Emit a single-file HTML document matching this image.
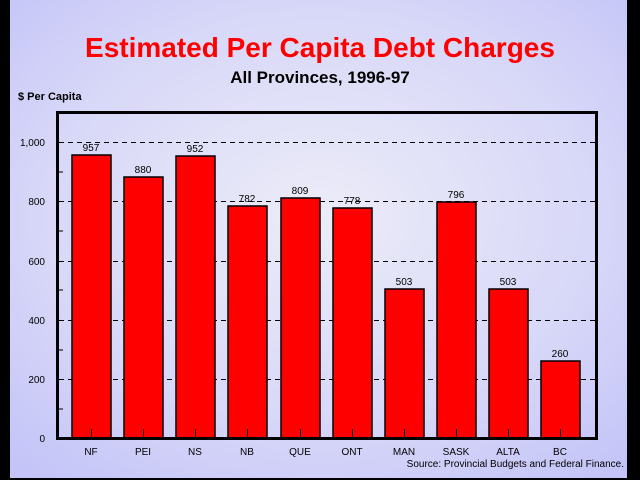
<!DOCTYPE html>
<html><head><meta charset="utf-8"><style>
body{margin:0;width:640px;height:480px;overflow:hidden;font-family:"Liberation Sans",Arial,sans-serif}
</style></head><body>
<svg width="640" height="480" xmlns="http://www.w3.org/2000/svg" font-family="Liberation Sans, Arial, sans-serif">
<defs>
<radialGradient id="bg" cx="0.5" cy="0.45" r="0.7">
<stop offset="0" stop-color="#ececf8"/>
<stop offset="0.6" stop-color="#d8d8f8"/>
<stop offset="1" stop-color="#c4c4f8"/>
</radialGradient>
</defs>
<rect width="640" height="480" fill="url(#bg)"/>
<rect x="0" y="0" width="10" height="480" fill="#000"/>
<rect x="627" y="0" width="13" height="480" fill="#000"/>
<rect x="0" y="478" width="640" height="2" fill="#000"/>
<text x="320" y="57" text-anchor="middle" font-size="28" font-weight="bold" fill="#ff0000">Estimated Per Capita Debt Charges</text>
<text x="320" y="83" text-anchor="middle" font-size="17" font-weight="bold" fill="#000">All Provinces, 1996-97</text>
<text x="18" y="100" font-size="11" font-weight="bold" fill="#000">$ Per Capita</text>
<g stroke="#000" stroke-width="1" stroke-dasharray="5,4">
<line x1="59" x2="596" y1="142.5" y2="142.5"/>
<line x1="59" x2="596" y1="201.5" y2="201.5"/>
<line x1="59" x2="596" y1="261.5" y2="261.5"/>
<line x1="59" x2="596" y1="320.5" y2="320.5"/>
<line x1="59" x2="596" y1="379.5" y2="379.5"/>
</g>
<g stroke="#000" stroke-width="1">
<line x1="59" x2="63" y1="172" y2="172"/><line x1="59" x2="63" y1="231" y2="231"/>
<line x1="59" x2="63" y1="290" y2="290"/><line x1="59" x2="63" y1="350" y2="350"/>
<line x1="59" x2="63" y1="409" y2="409"/>
</g>
<g fill="#ff0000" stroke="#000" stroke-width="1.5">
<rect x="72" y="155" width="39" height="283"/>
<rect x="124" y="177" width="39" height="261"/>
<rect x="176" y="156" width="39" height="282"/>
<rect x="228" y="206" width="39" height="232"/>
<rect x="281" y="198" width="39" height="240"/>
<rect x="333" y="208" width="39" height="230"/>
<rect x="385" y="289" width="39" height="149"/>
<rect x="437" y="202" width="39" height="236"/>
<rect x="489" y="289" width="39" height="149"/>
<rect x="541" y="361" width="39" height="77"/>
</g>
<g stroke="#000" stroke-width="1">
<line x1="91.5" x2="91.5" y1="429" y2="438"/><line x1="143.5" x2="143.5" y1="429" y2="438"/>
<line x1="195.5" x2="195.5" y1="429" y2="438"/><line x1="247.5" x2="247.5" y1="429" y2="438"/>
<line x1="300.5" x2="300.5" y1="429" y2="438"/><line x1="352.5" x2="352.5" y1="429" y2="438"/>
<line x1="404.5" x2="404.5" y1="429" y2="438"/><line x1="456.5" x2="456.5" y1="429" y2="438"/>
<line x1="508.5" x2="508.5" y1="429" y2="438"/><line x1="560.5" x2="560.5" y1="429" y2="438"/>
</g>
<rect x="57.5" y="112.5" width="539" height="326" fill="none" stroke="#000" stroke-width="3"/>
<g font-size="10" text-anchor="middle" fill="#000">
<text x="91" y="151">957</text><text x="143" y="173">880</text><text x="195" y="152">952</text>
<text x="247" y="202">782</text><text x="300" y="194">809</text><text x="352" y="204">778</text>
<text x="404" y="285">503</text><text x="456" y="198">796</text><text x="508" y="285">503</text>
<text x="560" y="357">260</text>
</g>
<g font-size="10" text-anchor="end" fill="#000">
<text x="45" y="146">1,000</text><text x="45" y="205">800</text><text x="45" y="265">600</text>
<text x="45" y="324">400</text><text x="45" y="383">200</text><text x="45" y="442">0</text>
</g>
<g font-size="10" text-anchor="middle" fill="#000">
<text x="91" y="455">NF</text><text x="143" y="455">PEI</text><text x="195" y="455">NS</text>
<text x="247" y="455">NB</text><text x="300" y="455">QUE</text><text x="352" y="455">ONT</text>
<text x="404" y="455">MAN</text><text x="456" y="455">SASK</text><text x="508" y="455">ALTA</text>
<text x="560" y="455">BC</text>
</g>
<text x="624" y="467" text-anchor="end" font-size="10" fill="#000">Source: Provincial Budgets and Federal Finance.</text>
</svg>
</body></html>
